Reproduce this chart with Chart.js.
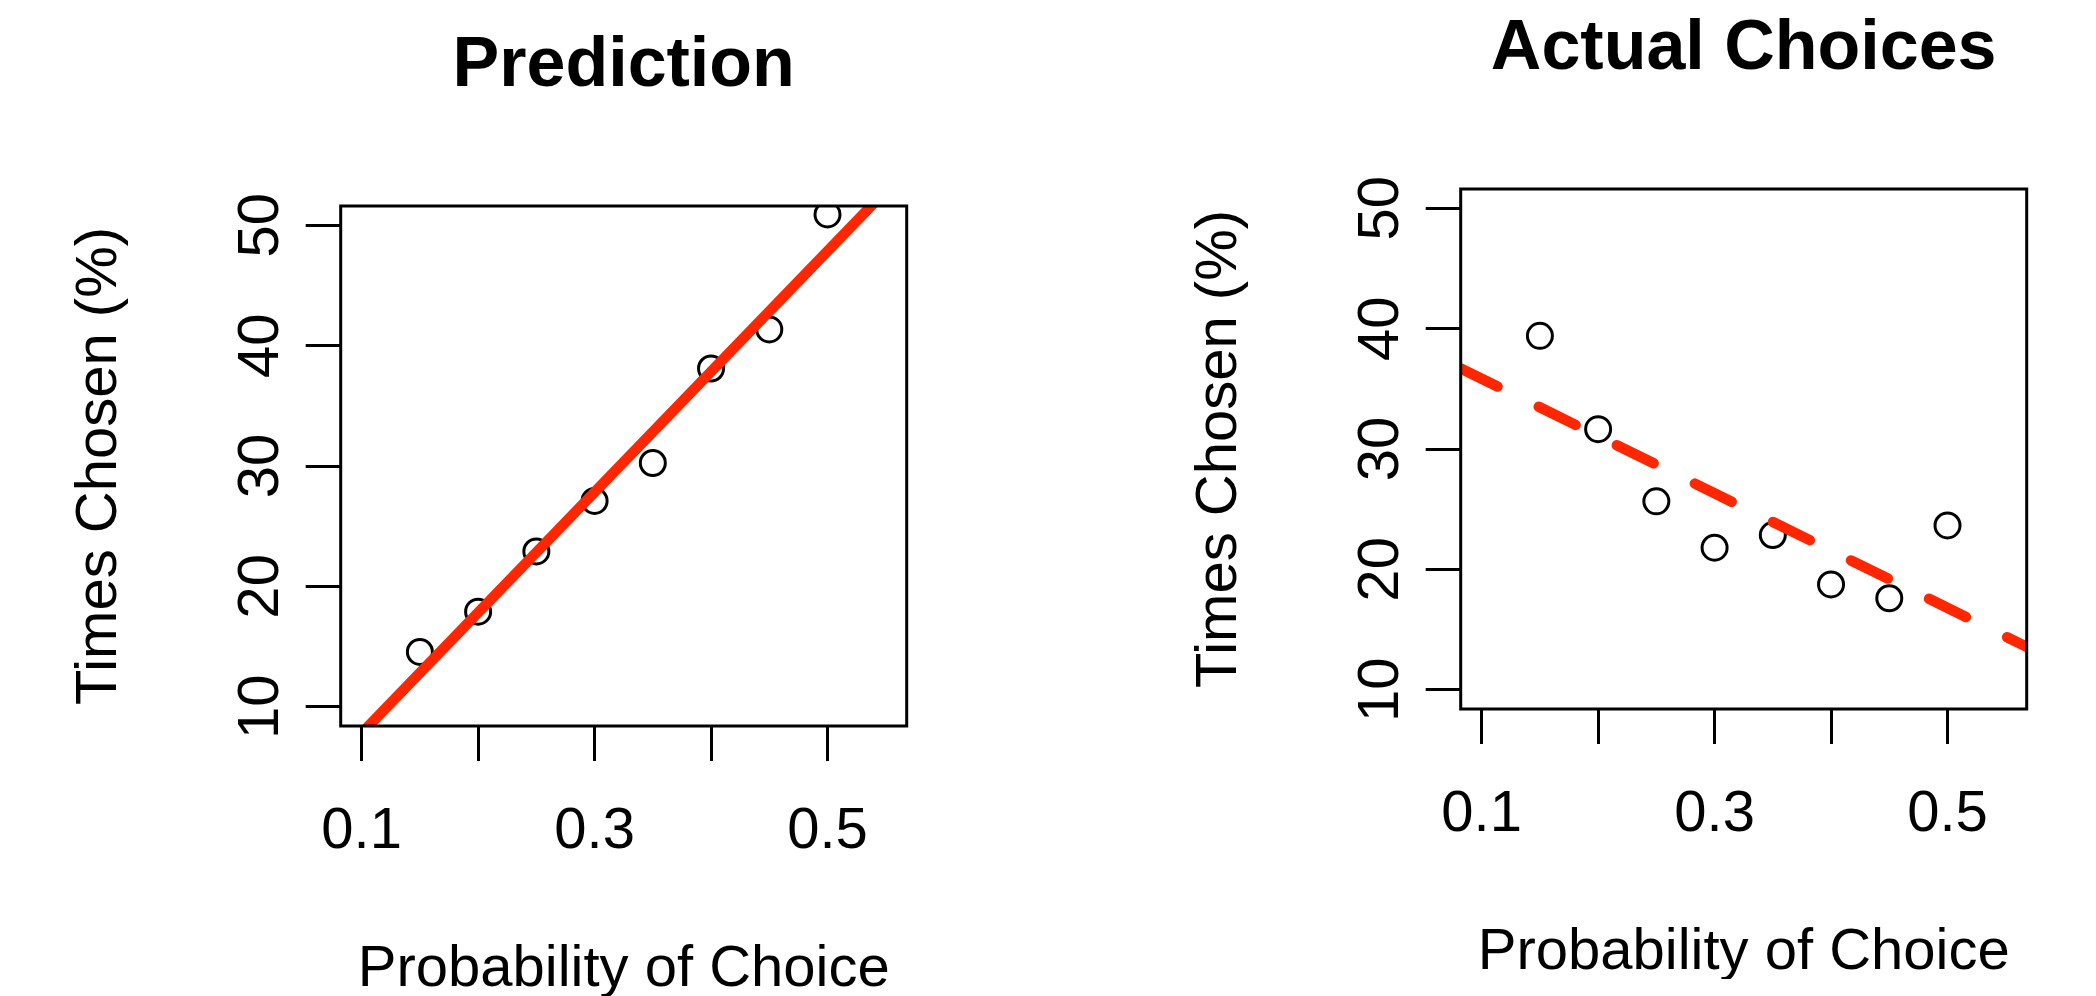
<!DOCTYPE html>
<html lang="en">
  <head>
    <meta charset="UTF-8" />
    <title>Prediction vs Actual Choices</title>
    <script src="https://cdn.jsdelivr.net/npm/chart.js@4/dist/chart.umd.min.js"></script>
    <style>
      html, body { margin: 0; padding: 0; background: #fff; overflow: hidden; }
      body { width: 2096px; height: 996px; position: relative; }
      canvas { position: absolute; }
      #predictionChart { left: 0; top: 0; }
      #actualChart { left: 1120px; top: -17px; }
    </style>
  </head>
  <body>
    <canvas id="predictionChart" width="976" height="996"></canvas>
    <canvas id="actualChart" width="976" height="996"></canvas>

    <script>
      // values
      const probability = [0.15, 0.2, 0.25, 0.3, 0.35, 0.4, 0.45, 0.5];
      const predictedChosen = [14.55, 17.9, 22.9, 27.1, 30.25, 38.1, 41.35, 50.9];
      const actualChosen = [39.4, 31.65, 25.65, 21.8, 22.85, 18.75, 17.6, 23.65];

      // fitted lines: [intercept, slope]
      const predictedFit = [-2.2, 100.1];
      const actualFit = [40.6, -47.6];

      const xTicks = [0.1, 0.2, 0.3, 0.4, 0.5];
      const xTickLabels = ["0.1", "", "0.3", "", "0.5"];
      const yTicks = [10, 20, 30, 40, 50];
      const xRange = [0.082, 0.568];
      const yRange = [8.4, 51.6];

      const RED = "rgb(255, 38, 0)";
      const FONT = "'Liberation Sans', Arial, Helvetica, sans-serif";
      Chart.defaults.font.family = FONT;
      Chart.defaults.color = "#000";

      const plotBox = {
        id: "plotBox",
        afterDatasetsDraw(chart) {
          const { ctx, chartArea: a } = chart;
          ctx.save();
          ctx.lineWidth = 3;
          ctx.strokeStyle = "#000";
          ctx.strokeRect(a.left, a.top, a.right - a.left, a.bottom - a.top);
          ctx.restore();
        },
      };

      function tickGrid() {
        return {
          display: true,
          drawOnChartArea: false,
          drawTicks: true,
          tickLength: 35,
          tickWidth: 3,
          tickColor: "#000",
        };
      }

      function makePanel(id, title, yValues, fit, dashed) {
        const points = probability.map((x, i) => ({ x, y: yValues[i] }));
        const line = xRange.map((x) => ({ x, y: fit[0] + fit[1] * x }));

        return new Chart(document.getElementById(id), {
          type: "scatter",
          data: {
            datasets: [
              {
                type: "line",
                data: line,
                borderColor: RED,
                borderWidth: 10.5,
                borderCapStyle: dashed ? "round" : "butt",
                borderDash: dashed ? [41, 46] : [],
                pointRadius: 0,
                fill: false,
                clip: 0,
                order: 0,
              },
              {
                data: points,
                pointStyle: "circle",
                pointRadius: 12.5,
                pointBorderWidth: 3,
                pointBorderColor: "#000",
                pointBackgroundColor: "rgba(0,0,0,0)",
                clip: 0,
                order: 1,
              },
            ],
          },
          options: {
            responsive: false,
            animation: false,
            events: [],
            layout: { padding: { left: 0, top: 0, right: 69.3, bottom: 0 } },
            plugins: {
              legend: { display: false },
              tooltip: { enabled: false },
              title: {
                display: true,
                text: title,
                fullSize: false,
                color: "#000",
                font: { family: FONT, size: 70, weight: "bold", lineHeight: 1.2 },
                padding: { top: 24.7, bottom: 97.3 },
              },
            },
            scales: {
              x: {
                type: "linear",
                min: xRange[0],
                max: xRange[1],
                afterBuildTicks: (scale) => {
                  scale.ticks = xTicks.map((v) => ({ value: v }));
                },
                afterFit: (scale) => {
                  scale.height = 270;
                },
                grid: tickGrid(),
                border: { display: false },
                ticks: {
                  autoSkip: false,
                  maxRotation: 0,
                  padding: 36.5,
                  font: { size: 58 },
                  callback: (v, i) => xTickLabels[i],
                },
                title: {
                  display: true,
                  text: "Probability of Choice",
                  font: { size: 58, lineHeight: 0.9 },
                  padding: { top: 0, bottom: 0 },
                },
              },
              y: {
                type: "linear",
                min: yRange[0],
                max: yRange[1],
                afterBuildTicks: (scale) => {
                  scale.ticks = yTicks.map((v) => ({ value: v }));
                },
                afterFit: (scale) => {
                  scale.width = 340.7;
                },
                grid: tickGrid(),
                border: { display: false },
                ticks: {
                  autoSkip: false,
                  minRotation: 90,
                  maxRotation: 90,
                  crossAlign: "center",
                  padding: 11,
                  font: { size: 58 },
                  callback: (v) => String(v),
                },
                title: {
                  display: true,
                  text: "Times Chosen (%)",
                  font: { size: 58, lineHeight: 1.1 },
                  padding: { top: 68.5, bottom: 0 },
                },
              },
            },
          },
          plugins: [plotBox],
        });
      }

      makePanel("predictionChart", "Prediction", predictedChosen, predictedFit, false);
      makePanel("actualChart", "Actual Choices", actualChosen, actualFit, true);
    </script>
  </body>
</html>
